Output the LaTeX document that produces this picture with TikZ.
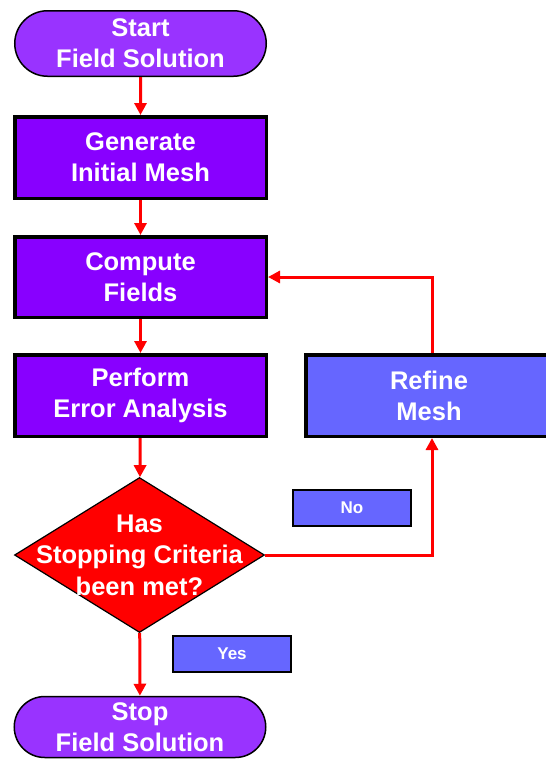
\documentclass[tikz,border=0pt]{standalone}
\usepackage{fontspec}
\setmainfont{Liberation Sans}
\usetikzlibrary{shapes.misc,shapes.geometric,arrows.meta}
\definecolor{termfill}{RGB}{153,51,255}
\definecolor{boxfill}{RGB}{136,0,255}
\definecolor{refinefill}{RGB}{102,102,255}
\definecolor{flowred}{RGB}{255,0,0}
\begin{document}
\begin{tikzpicture}[x=1pt,y=-1pt,
  txt/.style={text=white, font=\fontsize{25.5}{31}\selectfont\bfseries, align=center},
  term/.style={txt, rounded rectangle, draw=black, line width=1.5pt, fill=termfill,
    minimum width=251.5pt, inner sep=0pt},
  procbox/.style={txt, rectangle, draw=black, line width=3.5pt, fill=boxfill,
    minimum width=251.5pt, inner sep=0pt},
  tagbox/.style={rectangle, draw=black, line width=2pt, fill=refinefill, text=white,
    font=\fontsize{17}{20}\selectfont\bfseries, minimum width=118pt, minimum height=36pt, inner sep=0pt},
  flow/.style={draw=flowred, line width=3pt, -{Triangle[width=12pt,length=12pt]}}
]
\useasboundingbox (0,0) rectangle (546,761);

\node[term, minimum height=65.5pt] (start) at (140.5,43.5) {Start\\Field Solution};
\node[procbox, minimum height=81.5pt] (gen) at (140.5,157.5) {Generate\\Initial Mesh};
\node[procbox, minimum height=80.5pt] (comp) at (140.5,277) {Compute\\Fields};
\node[procbox, minimum height=81.5pt] (perf) at (140.5,395.5) {Perform\\Error Analysis};
\node[procbox, fill=refinefill, minimum width=246pt, minimum height=81.5pt] (refine) at (429,395.5) {Refine\\Mesh};
\node[diamond, draw=black, line width=1.2pt, fill=flowred, minimum width=250pt, minimum height=155pt, inner sep=0pt] (dec) at (139.5,555) {};
\node[txt, font=\fontsize{25.5}{31.5}\selectfont\bfseries] (dectext) at (dec.center) {Has\\Stopping Criteria\\been met?};
\node[term, minimum height=61pt] (stop) at (140,727) {Stop\\Field Solution};
\node[tagbox] (no) at (352,508) {No};
\node[tagbox] (yes) at (232,654) {Yes};

\coordinate (loop) at (432,395.5);

\draw[flow] (start) -- (gen);
\draw[flow] (gen) -- (comp);
\draw[flow] (comp) -- (perf);
\draw[flow] (perf) -- (dec);
\draw[flow] (dec) -- (stop);
\draw[flow] (dec.east) -| (refine.south -| loop);
\draw[flow] (refine.north -| loop) |- (comp.east);
\end{tikzpicture}
\end{document}
